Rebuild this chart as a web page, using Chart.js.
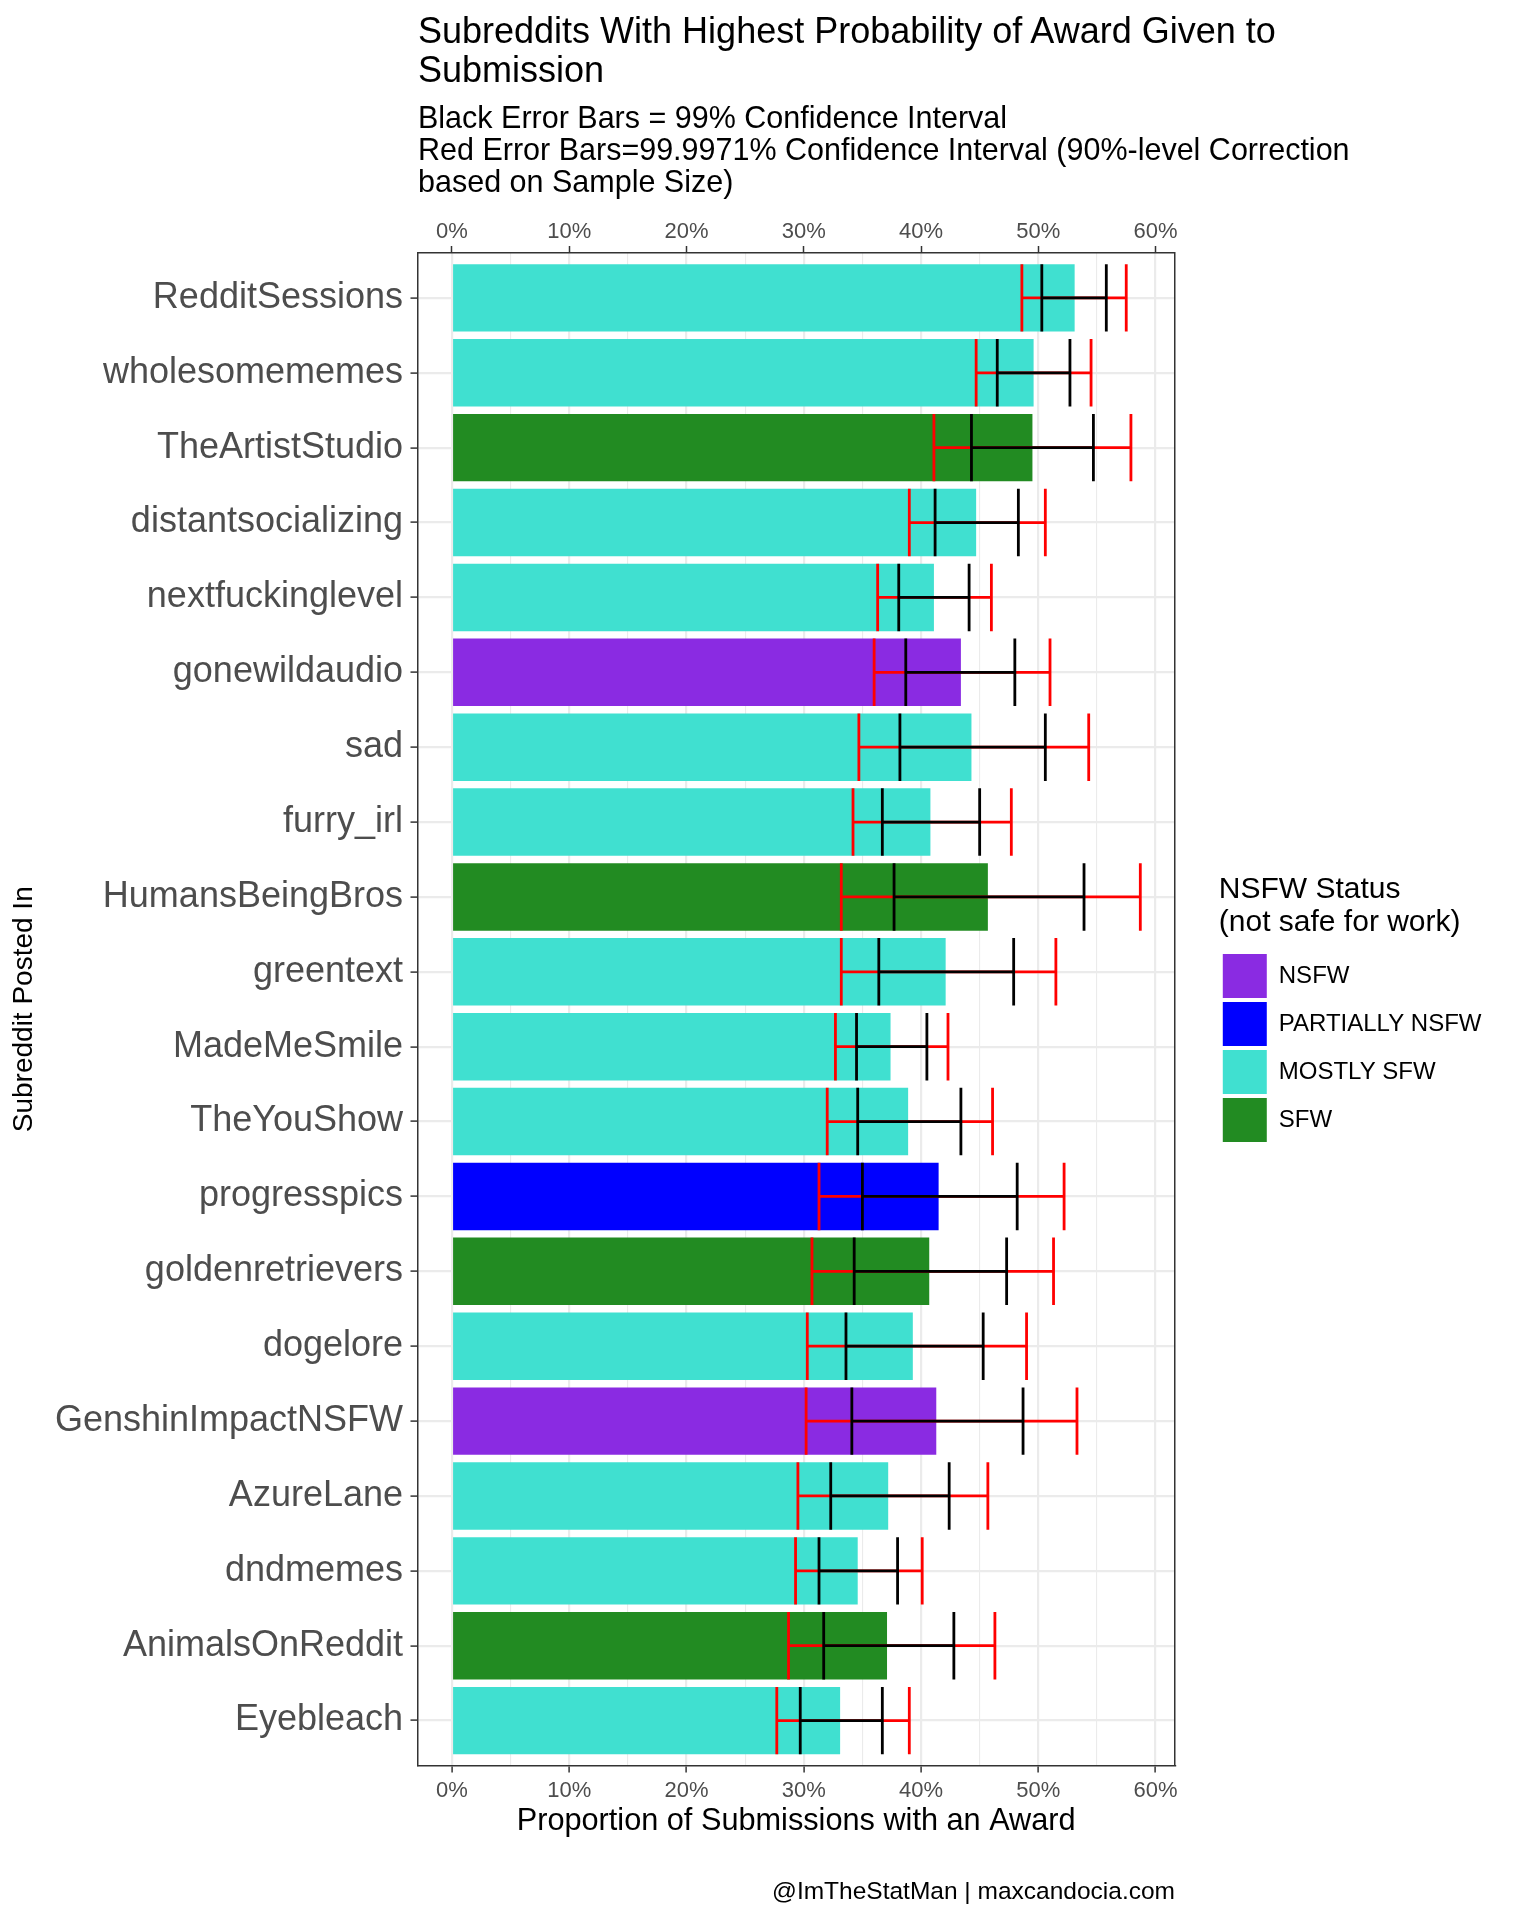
<!DOCTYPE html>
<html>
<head>
<meta charset="utf-8">
<script src="https://cdn.jsdelivr.net/npm/chart.js@4.4.1/dist/chart.umd.min.js"></script>
<style>
  body { margin: 0; background: #fff; font-family: 'Liberation Sans', Arial, sans-serif; }
  #wrap { position: relative; width: 1520px; height: 1920px; }
  #wrap canvas { position: absolute; left: 0; top: 0; }
  .txt { position: absolute; white-space: nowrap; color: #000; z-index: 2; }
  #title { left: 418px; top: 10.7px; font-size: 36px; line-height: 39px; }
  #subtitle { left: 418px; top: 101px; font-size: 30.5px; line-height: 32px; }
  #caption { right: 345px; top: 1876.5px; font-size: 24.5px; line-height: 28px; text-align: right; }
</style>
</head>
<body>
<div id="wrap">
  <canvas id="chart" width="1520" height="1920"></canvas>
  <div class="txt" id="title">Subreddits With Highest Probability of Award Given to<br>Submission</div>
  <div class="txt" id="subtitle">Black Error Bars = 99% Confidence Interval<br>Red Error Bars=99.9971% Confidence Interval (90%-level Correction<br>based on Sample Size)</div>
  <div class="txt" id="caption">@ImTheStatMan | maxcandocia.com</div>
</div>
<script>
// data, top row first (values in %)
const categories = ['RedditSessions','wholesomememes','TheArtistStudio','distantsocializing','nextfuckinglevel',
  'gonewildaudio','sad','furry_irl','HumansBeingBros','greentext','MadeMeSmile','TheYouShow','progresspics',
  'goldenretrievers','dogelore','GenshinImpactNSFW','AzureLane','dndmemes','AnimalsOnReddit','Eyebleach'];
const nsfwStatus = ['MOSTLY SFW','MOSTLY SFW','SFW','MOSTLY SFW','MOSTLY SFW','NSFW','MOSTLY SFW','MOSTLY SFW',
  'SFW','MOSTLY SFW','MOSTLY SFW','MOSTLY SFW','PARTIALLY NSFW','SFW','MOSTLY SFW','NSFW','MOSTLY SFW',
  'MOSTLY SFW','SFW','MOSTLY SFW'];
const proportion = [53.1,49.6,49.5,44.7,41.1,43.4,44.3,40.8,45.7,42.1,37.4,38.9,41.5,40.7,39.3,41.3,37.2,34.6,37.1,33.1];
const blackLow   = [50.3,46.5,44.3,41.2,38.1,38.7,38.2,36.7,37.7,36.4,34.5,34.6,35.0,34.3,33.6,34.1,32.3,31.3,31.7,29.7];
const blackHigh  = [55.8,52.7,54.7,48.3,44.1,48.0,50.6,45.0,53.9,47.9,40.5,43.4,48.2,47.3,45.3,48.7,42.4,38.0,42.8,36.7];
const redLow     = [48.6,44.7,41.1,39.0,36.3,36.0,34.7,34.2,33.2,33.2,32.7,32.0,31.3,30.7,30.3,30.2,29.5,29.3,28.7,27.7];
const redHigh    = [57.5,54.5,57.9,50.6,46.0,51.0,54.3,47.7,58.7,51.5,42.3,46.1,52.2,51.3,49.0,53.3,45.7,40.1,46.3,39.0];

const statusLevels = ['NSFW','PARTIALLY NSFW','MOSTLY SFW','SFW'];
const statusColors = ['#8A2BE2','#0000FF','#40E0D0','#228B22'];
const xTickValues  = [0,5,10,15,20,25,30,35,40,45,50,55,60];

Chart.defaults.font.family = "'Liberation Sans', Arial, sans-serif";

const isMajor = c => c.tick && c.tick.value % 10 === 0;

// one dataset per status so the legend comes from the data
const datasets = statusLevels.map((lvl, k) => ({
  label: lvl,
  data: categories.map((c, i) => nsfwStatus[i] === lvl ? { x: proportion[i], y: i } : null).filter(Boolean),
  backgroundColor: statusColors[k],
  borderWidth: 0,
  grouped: false,
  barPercentage: 0.9,
  categoryPercentage: 1
}));

// red (corrected) interval under black (99%) interval
const errorBars = {
  id: 'errorBars',
  afterDatasetsDraw(chart) {
    const { ctx, scales: { x, y } } = chart;
    const draw = (lo, hi, color) => {
      ctx.save();
      ctx.strokeStyle = color;
      ctx.lineWidth = 2.8;
      categories.forEach((c, i) => {
        const x0 = x.getPixelForValue(lo[i]), x1 = x.getPixelForValue(hi[i]);
        const yc = y.getPixelForValue(i), yt = y.getPixelForValue(i - 0.45), yb = y.getPixelForValue(i + 0.45);
        ctx.beginPath();
        ctx.moveTo(x0, yc); ctx.lineTo(x1, yc);
        ctx.moveTo(x0, yt); ctx.lineTo(x0, yb);
        ctx.moveTo(x1, yt); ctx.lineTo(x1, yb);
        ctx.stroke();
      });
      ctx.restore();
    };
    draw(redLow, redHigh, '#FF0000');
    draw(blackLow, blackHigh, '#000000');
  }
};

const xBase = {
  type: 'linear', min: -2.94, max: 61.64,
  afterBuildTicks: s => { s.ticks = xTickValues.map(v => ({ value: v })); },
  border: { display: true, color: '#333333', width: 1.5 }
};
const xTickOpts = pad => ({ autoSkip: false, maxRotation: 0, padding: pad, color: '#4D4D4D',
  font: { size: 22, lineHeight: 1.2 }, callback: v => v % 10 === 0 ? v + '%' : '' });

new Chart(document.getElementById('chart'), {
  type: 'bar',
  data: { datasets },
  options: {
    indexAxis: 'y',
    responsive: false,
    devicePixelRatio: 1,
    animation: false,
    events: [],
    layout: { padding: { top: 0, right: 28.5, bottom: 80, left: 0 } },
    scales: {
      x: {
        ...xBase, position: 'bottom', ticks: xTickOpts(5.5),
        grid: { color: '#EBEBEB', lineWidth: c => isMajor(c) ? 2.2 : 1.1, tickLength: 7,
                tickColor: c => isMajor(c) ? '#333333' : 'rgba(0,0,0,0)', tickWidth: 1.5 },
        title: { display: true, text: 'Proportion of Submissions with an Award', color: '#000',
                 font: { size: 30.7 }, padding: 0 },
        afterFit: s => { s.height = 74.5; }
      },
      x2: {
        ...xBase, position: 'top', ticks: xTickOpts(0.5),
        grid: { drawOnChartArea: false, tickLength: 7,
                tickColor: c => isMajor(c) ? '#333333' : 'rgba(0,0,0,0)', tickWidth: 1.5 },
        afterFit: s => { s.height = 253; }
      },
      y: {
        type: 'linear', reverse: true, min: -0.6, max: 19.6, offset: false,
        afterBuildTicks: s => { s.ticks = categories.map((c, i) => ({ value: i })); },
        ticks: { autoSkip: false, padding: 7.5, color: '#4D4D4D', font: { size: 36 },
                 callback: v => categories[v] },
        grid: { offset: false, color: '#EBEBEB', lineWidth: 2.2, tickLength: 7, tickColor: '#333333', tickWidth: 1.5 },
        border: { display: true, color: '#333333', width: 1.5 },
        title: { display: true, text: 'Subreddit Posted In', color: '#000', font: { size: 28 },
                 padding: { top: 7.5, bottom: 0 } },
        afterFit: s => { s.width = 417.5; }
      },
      yr: {
        type: 'linear', position: 'right', min: 0, max: 1,
        ticks: { display: false },
        grid: { display: false },
        border: { display: true, color: '#333333', width: 1.5 },
        afterFit: s => { s.width = 44; }
      }
    },
    plugins: {
      legend: {
        position: 'right', align: 'center', fullSize: false, maxWidth: 400,
        title: { display: true, text: ['NSFW Status', '(not safe for work)'], position: 'start', color: '#000',
                 font: { size: 30, lineHeight: 1.1 }, padding: { top: 2.5, bottom: 42 } },
        labels: { boxWidth: 44, boxHeight: 44, padding: 4, color: '#000', font: { size: 24 } }
      },
      tooltip: { enabled: false }
    }
  },
  plugins: [errorBars]
});
</script>
</body>
</html>
